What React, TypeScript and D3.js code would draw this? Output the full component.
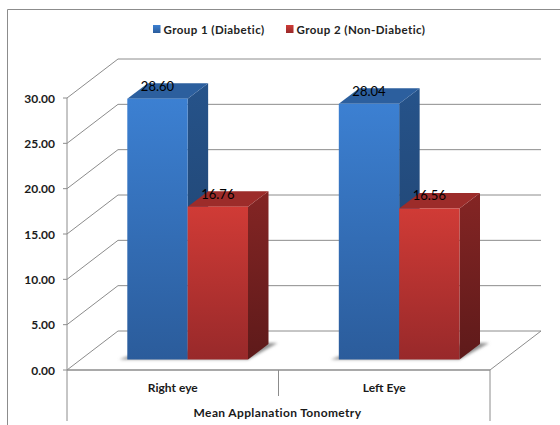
import React from 'react';
import * as d3 from 'd3';

const categories = ['Right eye', 'Left Eye'];
const seriesNames = ['Group 1 (Diabetic)', 'Group 2 (Non-Diabetic)'];
const diabetic = [28.6, 28.04];
const nonDiabetic = [16.76, 16.56];
const yTicks = [0, 5, 10, 15, 20, 25, 30];
const axisTitle = 'Mean Applanation Tonometry';

const width = 560;
const height = 425;
const font = 'Lato, "Open Sans", sans-serif';
const axisColor = '#8c8c8c';

// fake 3d offsets
const wallDx = 51;
const wallDy = -39;
const barDx = 20.5;
const barDy = -15.5;

const x = d3.scaleBand<string>().domain(categories).range([67, 490]);
const xGroup = d3.scaleBand<string>().domain(seriesNames).range([60.3, 181]);
const y = d3.scaleLinear().domain([0, 30]).range([370, 98]);
// bars stand part way into the floor, so they get their own baseline
const yBar = d3.scaleLinear().domain([0, 30]).range([359.5, 85.9]);

const poly = (pts: [number, number][]) => pts.map((p) => p.join(',')).join(' ');

const App: React.FC = () => {
  const x0 = x.range()[0];
  const x1 = x.range()[1];
  const series = [
    { name: seriesNames[0], values: diabetic, id: 'blue', top: '#2c5f9e' },
    { name: seriesNames[1], values: nonDiabetic, id: 'red', top: '#9c2c2a' },
  ];

  return (
    <svg width={width} height={height} style={{ position: 'absolute', left: 0, top: 0 }} fontFamily={font}>
      <defs>
        <linearGradient id="blue-front" x1="0" y1="0" x2="0" y2="1">
          <stop offset="0" stopColor="#3c80d2" />
          <stop offset="1" stopColor="#2b5c9b" />
        </linearGradient>
        <linearGradient id="blue-side" x1="0" y1="0" x2="0" y2="1">
          <stop offset="0" stopColor="#26538a" />
          <stop offset="1" stopColor="#1e3f68" />
        </linearGradient>
        <linearGradient id="red-front" x1="0" y1="0" x2="0" y2="1">
          <stop offset="0" stopColor="#d03b36" />
          <stop offset="1" stopColor="#98292a" />
        </linearGradient>
        <linearGradient id="red-side" x1="0" y1="0" x2="0" y2="1">
          <stop offset="0" stopColor="#842524" />
          <stop offset="1" stopColor="#5e1a1a" />
        </linearGradient>
        <filter id="soft" x="-10%" y="-30%" width="120%" height="160%">
          <feGaussianBlur stdDeviation="1.6" />
        </filter>
      </defs>

      <rect width={width} height={height} fill="#fff" />
      {/* outer frame, runs off the right and bottom of the picture */}
      <path d={`M7.5,${height}V9.5H${width}`} fill="none" stroke={axisColor} strokeWidth={1} />

      {/* back wall grid and side wall lines */}
      {yTicks.map((t) => (
        <g key={t} stroke={axisColor} fill="none">
          <path
            d={`M${x0},${y(t)}L${x0 + wallDx},${y(t) + wallDy}H${x1 + wallDx}`}
            strokeWidth={1}
          />
          <line x1={x0 - 4} x2={x0} y1={y(t)} y2={y(t)} />
        </g>
      ))}

      {/* floor */}
      <path
        d={`M${x1},${y(0)}L${x1 + wallDx},${y(0) + wallDy}`}
        fill="none"
        stroke={axisColor}
      />

      {/* axes and category dividers */}
      <g stroke={axisColor} strokeWidth={1}>
        <line x1={x0} x2={x0} y1={y(30)} y2={421} />
        <line x1={x0} x2={x1} y1={y(0)} y2={y(0)} strokeWidth={1.5} />
        <line x1={x1} x2={x1} y1={y(0)} y2={421} />
        <line x1={x('Left Eye')} x2={x('Left Eye')} y1={y(0)} y2={396} />
      </g>

      {/* floor shadows */}
      {categories.map((c) => {
        const left = (x(c) as number) + (xGroup(seriesNames[0]) as number);
        const right = (x(c) as number) + (xGroup(seriesNames[1]) as number) + xGroup.bandwidth();
        return (
          <polygon
            key={c}
            filter="url(#soft)"
            fill="#8f8f8f"
            points={poly([
              [left - 8, yBar(0)],
              [right, yBar(0)],
              [right + barDx + 9, yBar(0) + barDy - 1],
              [right + barDx - 2, yBar(0) + barDy - 1],
              [left, yBar(0) - 3],
            ])}
          />
        );
      })}

      {/* bars */}
      {categories.map((c, i) => (
        <g key={c}>
          {series.map((s) => {
            const left = (x(c) as number) + (xGroup(s.name) as number);
            const right = left + xGroup.bandwidth();
            const top = yBar(s.values[i]);
            const base = yBar(0);
            return (
              <g key={s.name}>
                <polygon
                  fill={`url(#${s.id}-side)`}
                  points={poly([
                    [right, top],
                    [right + barDx, top + barDy],
                    [right + barDx, base + barDy],
                    [right, base],
                  ])}
                />
                <polygon
                  fill={s.top}
                  points={poly([
                    [left, top],
                    [left + barDx, top + barDy],
                    [right + barDx, top + barDy],
                    [right, top],
                  ])}
                />
                <rect
                  x={left}
                  y={top}
                  width={xGroup.bandwidth()}
                  height={base - top}
                  fill={`url(#${s.id}-front)`}
                />
              </g>
            );
          })}
        </g>
      ))}

      {/* value labels go above all bars */}
      {categories.map((c, i) =>
        series.map((s) => (
          <text
            key={c + s.name}
            x={(x(c) as number) + (xGroup(s.name) as number) + xGroup.bandwidth() / 2}
            y={yBar(s.values[i]) - 8}
            textAnchor="middle"
            fontSize={13}
            fill="#000"
          >
            {s.values[i].toFixed(2)}
          </text>
        ))
      )}

      {/* y tick labels */}
      {yTicks.map((t) => (
        <text key={t} x={55} y={y(t) + 4.5} textAnchor="end" fontSize={12} fontWeight={700} fill="#1a1a1a">
          {t.toFixed(2)}
        </text>
      ))}

      {/* category labels */}
      {categories.map((c) => (
        <text
          key={c}
          x={(x(c) as number) + x.bandwidth() / 2}
          y={392}
          textAnchor="middle"
          fontSize={12}
          fontWeight={700}
          fill="#1a1a1a"
        >
          {c}
        </text>
      ))}
      <text
        x={277.5}
        y={417}
        textAnchor="middle"
        fontSize={12}
        fontWeight={700}
        fill="#1a1a1a"
        letterSpacing={0.36}
      >
        {axisTitle}
      </text>

      {/* legend */}
      {series.map((s, i) => {
        const lx = i === 0 ? 153 : 286;
        return (
          <g key={s.name}>
            <rect x={lx} y={25} width={7.5} height={8} fill={`url(#${s.id}-front)`} />
            <text x={lx + 10.5} y={33.5} fontSize={11.5} fontWeight={700} fill="#222" letterSpacing={0.44}>
              {s.name}
            </text>
          </g>
        );
      })}
    </svg>
  );
};

export default App;
